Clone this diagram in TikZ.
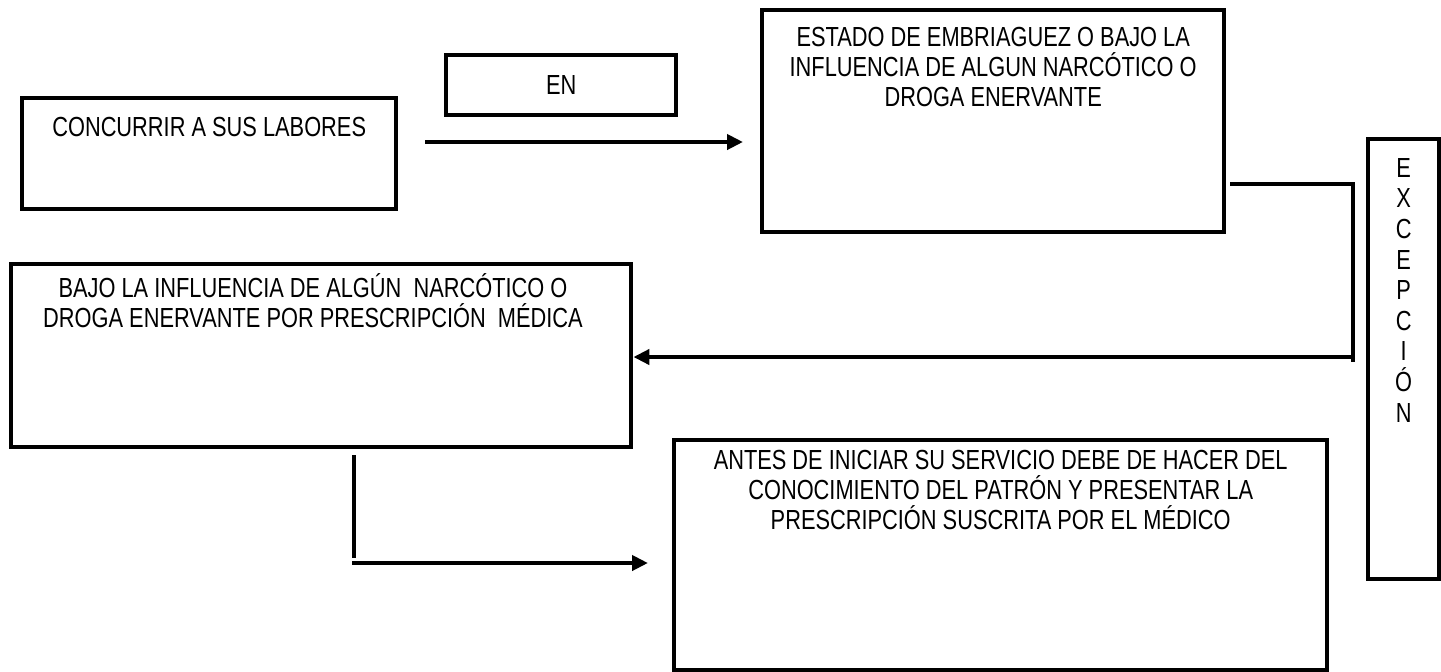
\documentclass[tikz,border=0pt]{standalone}
\usepackage{fontspec}
\setmainfont{Liberation Sans}[FakeStretch=0.79]
\usetikzlibrary{arrows.meta}

\begin{document}
\begin{tikzpicture}[x=0.5pt,y=-0.5pt,
	font=\fontsize{13.8}{15}\selectfont,
	caja/.style={draw, line width=2.2pt, rectangle, inner sep=0pt, anchor=north west},
	texto/.style={anchor=north, align=center, inner sep=0pt},
	linea/.style={line width=2.4pt},
	flecha/.style={line width=2.4pt, -{Triangle[length=8pt,width=7.5pt]}}]

	\useasboundingbox (0,0) rectangle (1441,671);

	% Boxes
	\node[caja, minimum width=187pt, minimum height=55.5pt] (concurrir) at (20,96) {};
	\node[caja, minimum width=115pt, minimum height=30pt] (en) at (444,53) {EN};
	\node[caja, minimum width=231pt, minimum height=111pt] (estado) at (760,8) {};
	\node[caja, minimum width=310pt, minimum height=91.5pt] (bajo) at (9,262) {};
	\node[caja, minimum width=326.5pt, minimum height=115pt] (antes) at (672,438) {};
	\node[caja, minimum width=35.5pt, minimum height=220pt] (excepcion) at (1366,137) {};

	% Box texts
	\node[texto] (concurrir-t) at (concurrir.north |- 0,117) {CONCURRIR A SUS LABORES};
	\node[texto] (estado-t) at (estado.north |- 0,27)
		{ESTADO DE EMBRIAGUEZ O BAJO LA\\INFLUENCIA DE ALGUN NARCÓTICO O\\DROGA ENERVANTE};
	\node[texto] (bajo-t) at (313,273)
		{BAJO LA INFLUENCIA DE ALGÚN~ NARCÓTICO O\\DROGA ENERVANTE POR PRESCRIPCIÓN~ MÉDICA};
	\node[texto] (antes-t) at (antes.north |- 0,450)
		{ANTES DE INICIAR SU SERVICIO DEBE DE HACER DEL\\CONOCIMIENTO DEL PATRÓN Y PRESENTAR LA\\PRESCRIPCIÓN SUSCRITA POR EL MÉDICO};
	\node[texto, font=\fontsize{13.8}{15.3}\selectfont] (excepcion-t) at (excepcion.north |- 0,158)
		{E\\X\\C\\E\\P\\C\\I\\Ó\\N};

	% Connectors
	\coordinate (c1) at (425,142);
	\coordinate (c2) at (743,142);
	\draw[flecha] (c1) -- (c2);

	\coordinate (c3) at (1230,184);
	\coordinate (c4) at (1353,362);
	\coordinate (c5) at (1355,357);
	\draw[linea] (c3) -| (c4);
	\draw[flecha] (c5) -- (c5 -| bajo.east);

	\coordinate (c6) at (354,455);
	\coordinate (c7) at (354,558);
	\coordinate (c8) at (352,563);
	\coordinate (c9) at (648,563);
	\draw[linea] (c6) -- (c7);
	\draw[flecha] (c8) -- (c9);
\end{tikzpicture}
\end{document}
